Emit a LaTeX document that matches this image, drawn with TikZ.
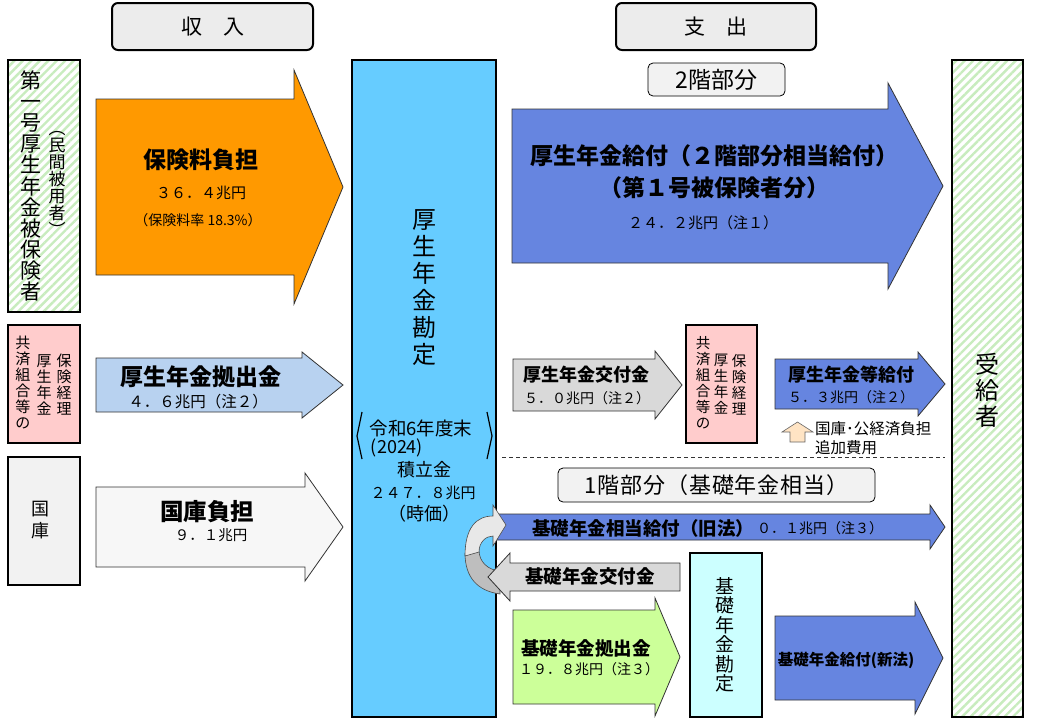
\documentclass[tikz,border=0pt]{standalone}
\usepackage{fontspec}
\setmainfont{Noto Sans CJK JP}
\usetikzlibrary{patterns.meta}
\definecolor{orng}{RGB}{255,153,0}
\definecolor{lblue}{RGB}{184,210,240}
\definecolor{bblue}{RGB}{102,133,224}
\definecolor{cbox}{RGB}{102,204,255}
\definecolor{gry}{RGB}{217,217,217}
\definecolor{lgry}{RGB}{247,247,247}
\definecolor{hdr}{RGB}{236,236,236}
\definecolor{tier}{RGB}{242,242,242}
\definecolor{grn}{RGB}{204,255,153}
\definecolor{pnk}{RGB}{255,204,204}
\definecolor{cyn}{RGB}{204,255,255}
\definecolor{hatchc}{RGB}{200,236,190}
\definecolor{peach}{RGB}{255,228,196}
\definecolor{darkribbon}{RGB}{190,190,190}
\definecolor{lightribbon}{RGB}{232,232,232}
\newcommand{\fsz}[2]{\fontsize{#1}{#2}\selectfont}
% #1 style, #2 x start, #3 x head base, #4 x tip, #5 y centre, #6 body half height, #7 head half height
\newcommand{\blockarrow}[7]{%
  \draw[#1] (#2,#5-#6) -- (#3,#5-#6) -- (#3,#5-#7) -- (#4,#5) -- (#3,#5+#7) -- (#3,#5+#6) -- (#2,#5+#6) -- cycle;}
\tikzset{
  hdrbox/.style={draw, line width=2pt, rounded corners=6pt, fill=hdr, inner sep=0pt},
  tierbox/.style={draw, line width=0.8pt, rounded corners=5pt, fill=tier, inner sep=0pt},
  sidebox/.style={draw, line width=1.5pt, inner sep=0pt},
  hatched/.style={preaction={fill=white}, pattern={Lines[angle=45,distance=6pt,line width=2.4pt]}, pattern color=hatchc},
  arr/.style={draw=black!80, line width=0.8pt},
  txt/.style={inner sep=0pt, align=center},
  vtxt/.style={inner sep=0pt, align=center},
}
\begin{document}
\begin{tikzpicture}[x=1pt,y=-1pt]
\useasboundingbox (0,0) rectangle (1040,720);
\fill[white] (0,0) rectangle (1040,720);

% headers
\node[hdrbox, minimum width=201pt, minimum height=47pt] (inc) at (212.5,26.5) {\fsz{21}{23}収\quad 入};
\node[hdrbox, minimum width=200pt, minimum height=47pt] (exp) at (716,26.5) {\fsz{21}{23}支\quad 出};

% left boxes
\node[sidebox, hatched, minimum width=72pt, minimum height=252pt] (ins) at (44,186) {};
\node[vtxt, font=\fsz{21}{21.1}] (insA) at (31,186) {第\\一\\号\\厚\\生\\年\\金\\被\\保\\険\\者};
\node[vtxt, font=\fsz{17}{17}] (insB) at (57,184) {︵\\民\\間\\被\\用\\者\\︶};

\node[sidebox, fill=pnk, minimum width=72pt, minimum height=118pt] (kyo) at (44,384) {};
\node[vtxt, font=\fsz{15}{16}] (kyoA) at (23,382.5) {共\\済\\組\\合\\等\\の};
\node[vtxt, font=\fsz{15}{16}] (kyoB) at (44,384.5) {厚\\生\\年\\金};
\node[vtxt, font=\fsz{15}{16}] (kyoC) at (64,384.5) {保\\険\\経\\理};

\node[sidebox, fill=tier, minimum width=72pt, minimum height=128pt] (kok) at (44,521) {};
\node[vtxt, font=\fsz{18}{22}] (kokT) at (40,520) {国\\庫};

% central account
\node[sidebox, fill=cbox, minimum width=144pt, minimum height=657pt] (acc) at (424,388.5) {};
\node[vtxt, font=\fsz{24}{27}] (accT) at (424,288) {厚\\生\\年\\金\\勘\\定};
\node[txt, font=\fsz{18.5}{22}] (accY) at (421,428) {令和6年度末};
\node[txt, font=\fsz{18}{20}] (accY2) at (397,448) {(2024)};
\node[txt, font=\fsz{18}{20}] (accR) at (424,470) {積立金};
\node[txt, font=\fsz{15}{20}] (accV) at (423,493) {２４７．８兆円};
\node[txt, font=\fsz{18}{20}] (accP) at (424,514) {（時価）};
\draw[line width=1.2pt] (362,412) -- (357,436) -- (362,459);
\draw[line width=1.2pt] (487,412) -- (492,436) -- (487,459);

% recipients
\node[sidebox, hatched, minimum width=71pt, minimum height=657pt] (rec) at (987.5,388.5) {};
\node[vtxt, font=\fsz{24}{26}] (recT) at (987,390) {受\\給\\者};

% income arrows
\blockarrow{arr, fill=orng}{96}{294}{343}{187}{88}{117}
\node[txt, font=\bfseries\fsz{23}{25}] (premT) at (201,160) {保険料負担};
\node[txt, font=\fsz{15}{17}] (premV) at (201,193) {３６．４兆円};
\node[txt, font=\fsz{14}{16}] (premR) at (198,220) {（保険料率 18.3\%）};

\blockarrow{arr, fill=lblue}{96}{302}{343}{385}{27}{33}
\node[txt, font=\bfseries\fsz{23}{25}] (kyoshT) at (201,377) {厚生年金拠出金};
\node[txt, font=\fsz{15.5}{17}] (kyoshV) at (198,402) {４．６兆円（注２）};

\blockarrow{arr, fill=lgry}{96}{305}{343}{527}{40}{54}
\node[txt, font=\bfseries\fsz{23.5}{25}] (kokT2) at (207,512) {国庫負担};
\node[txt, font=\fsz{14.5}{16}] (kokV) at (211,535) {９．１兆円};

% tier labels
\node[tierbox, minimum width=137pt, minimum height=33pt] (tier2) at (716.5,79.5) {\fsz{23}{24}2階部分};
\node[tierbox, minimum width=317pt, minimum height=34pt] (tier1) at (716.5,485) {\fsz{22}{24}\addfontfeature{LetterSpace=4}1階部分（基礎年金相当）};

% expenditure arrows, 2nd tier
\blockarrow{arr, fill=bblue}{512}{888}{943}{186}{77}{103}
\node[txt, font=\bfseries\fsz{23}{25}] (benT1) at (714,156) {厚生年金給付（２階部分相当給付）};
\node[txt, font=\bfseries\fsz{23}{25}] (benT2) at (714,188) {（第１号被保険者分）};
\node[txt, font=\fsz{15}{17}] (benV) at (703,223) {２４．２兆円（注１）};

\blockarrow{arr, fill=gry}{513}{655}{682}{385}{26}{34}
\node[txt, font=\bfseries\fsz{18}{20}] (kofT) at (586,375) {厚生年金交付金};
\node[txt, font=\fsz{14}{16}] (kofV) at (587,398) {５．０兆円（注２）};

\node[sidebox, fill=pnk, minimum width=71pt, minimum height=118pt] (kyo2) at (721.5,384) {};
\node[vtxt, font=\fsz{14.5}{16}] (kyo2A) at (703,382.5) {共\\済\\組\\合\\等\\の};
\node[vtxt, font=\fsz{14.5}{16}] (kyo2B) at (721,384.5) {厚\\生\\年\\金};
\node[vtxt, font=\fsz{14.5}{16}] (kyo2C) at (739,384.5) {保\\険\\経\\理};

\blockarrow{arr, fill=bblue}{775}{918}{945}{384}{25}{32}
\node[txt, font=\bfseries\fsz{18}{20}] (etcT) at (851,375) {厚生年金等給付};
\node[txt, font=\fsz{14}{16}] (etcV) at (851,397) {５．３兆円（注２）};

\draw[fill=peach, draw=black!60, line width=0.6pt] (790,442) -- (790,432) -- (782,432) -- (797.5,422) -- (813,432) -- (805,432) -- (805,442) -- cycle;
\node[txt, anchor=west, font=\fsz{15.5}{17}] (addT1) at (815,429) {国庫･公経済負担};
\node[txt, anchor=west, font=\fsz{15.5}{17}] (addT2) at (815,448) {追加費用};

\coordinate (dashL) at (502,457);
\coordinate (dashR) at (945,457);
\draw[dashed, dash pattern=on 4pt off 3pt, line width=0.8pt, black!80] (dashL) -- (dashR);

% 1st tier
\blockarrow{arr, fill=bblue}{497}{930}{945}{527}{13}{22}
\node[txt, anchor=west, font=\bfseries\fsz{18.5}{20}] (oldT) at (532,528) {基礎年金相当給付（旧法）};
\node[txt, anchor=west, font=\fsz{14}{16}] (oldV) at (757,528) {０．１兆円（注３）};

\fill[darkribbon, draw=black!70, line width=0.6pt] (465,553) .. controls (465,578) and (478,591) .. (500,594) -- (500,571) .. controls (488,570) and (479,562) .. (479,550) -- cycle;
\blockarrow{arr, fill=gry}{680}{510}{488}{577}{14}{24}
\node[txt, font=\bfseries\fsz{18.5}{20}] (basKT) at (590,576) {基礎年金交付金};
\fill[lightribbon, draw=black!70, line width=0.6pt] (465,556) .. controls (465,528) and (476,516) .. (493,516) -- (493,505) -- (506,525) -- (493,546) -- (493,536) .. controls (486,536) and (479,542) .. (479,552) -- cycle;

\blockarrow{arr, fill=grn}{513}{655}{680}{657}{47}{59}
\node[txt, font=\bfseries\fsz{18.5}{20}] (basCT) at (586,648) {基礎年金拠出金};
\node[txt, font=\fsz{14}{16}] (basCV) at (589,669) {１９．８兆円（注３）};

\node[sidebox, fill=cyn, minimum width=72pt, minimum height=164pt] (basA) at (726,635) {};
\node[vtxt, font=\fsz{19}{19.5}] (basAT) at (725,635) {基\\礎\\年\\金\\勘\\定};

\blockarrow{arr, fill=bblue}{775}{915}{943}{658}{42}{56}
\node[txt, font=\bfseries\fsz{15.5}{17}] (newT) at (846,660) {基礎年金給付(新法)};
\end{tikzpicture}
\end{document}
